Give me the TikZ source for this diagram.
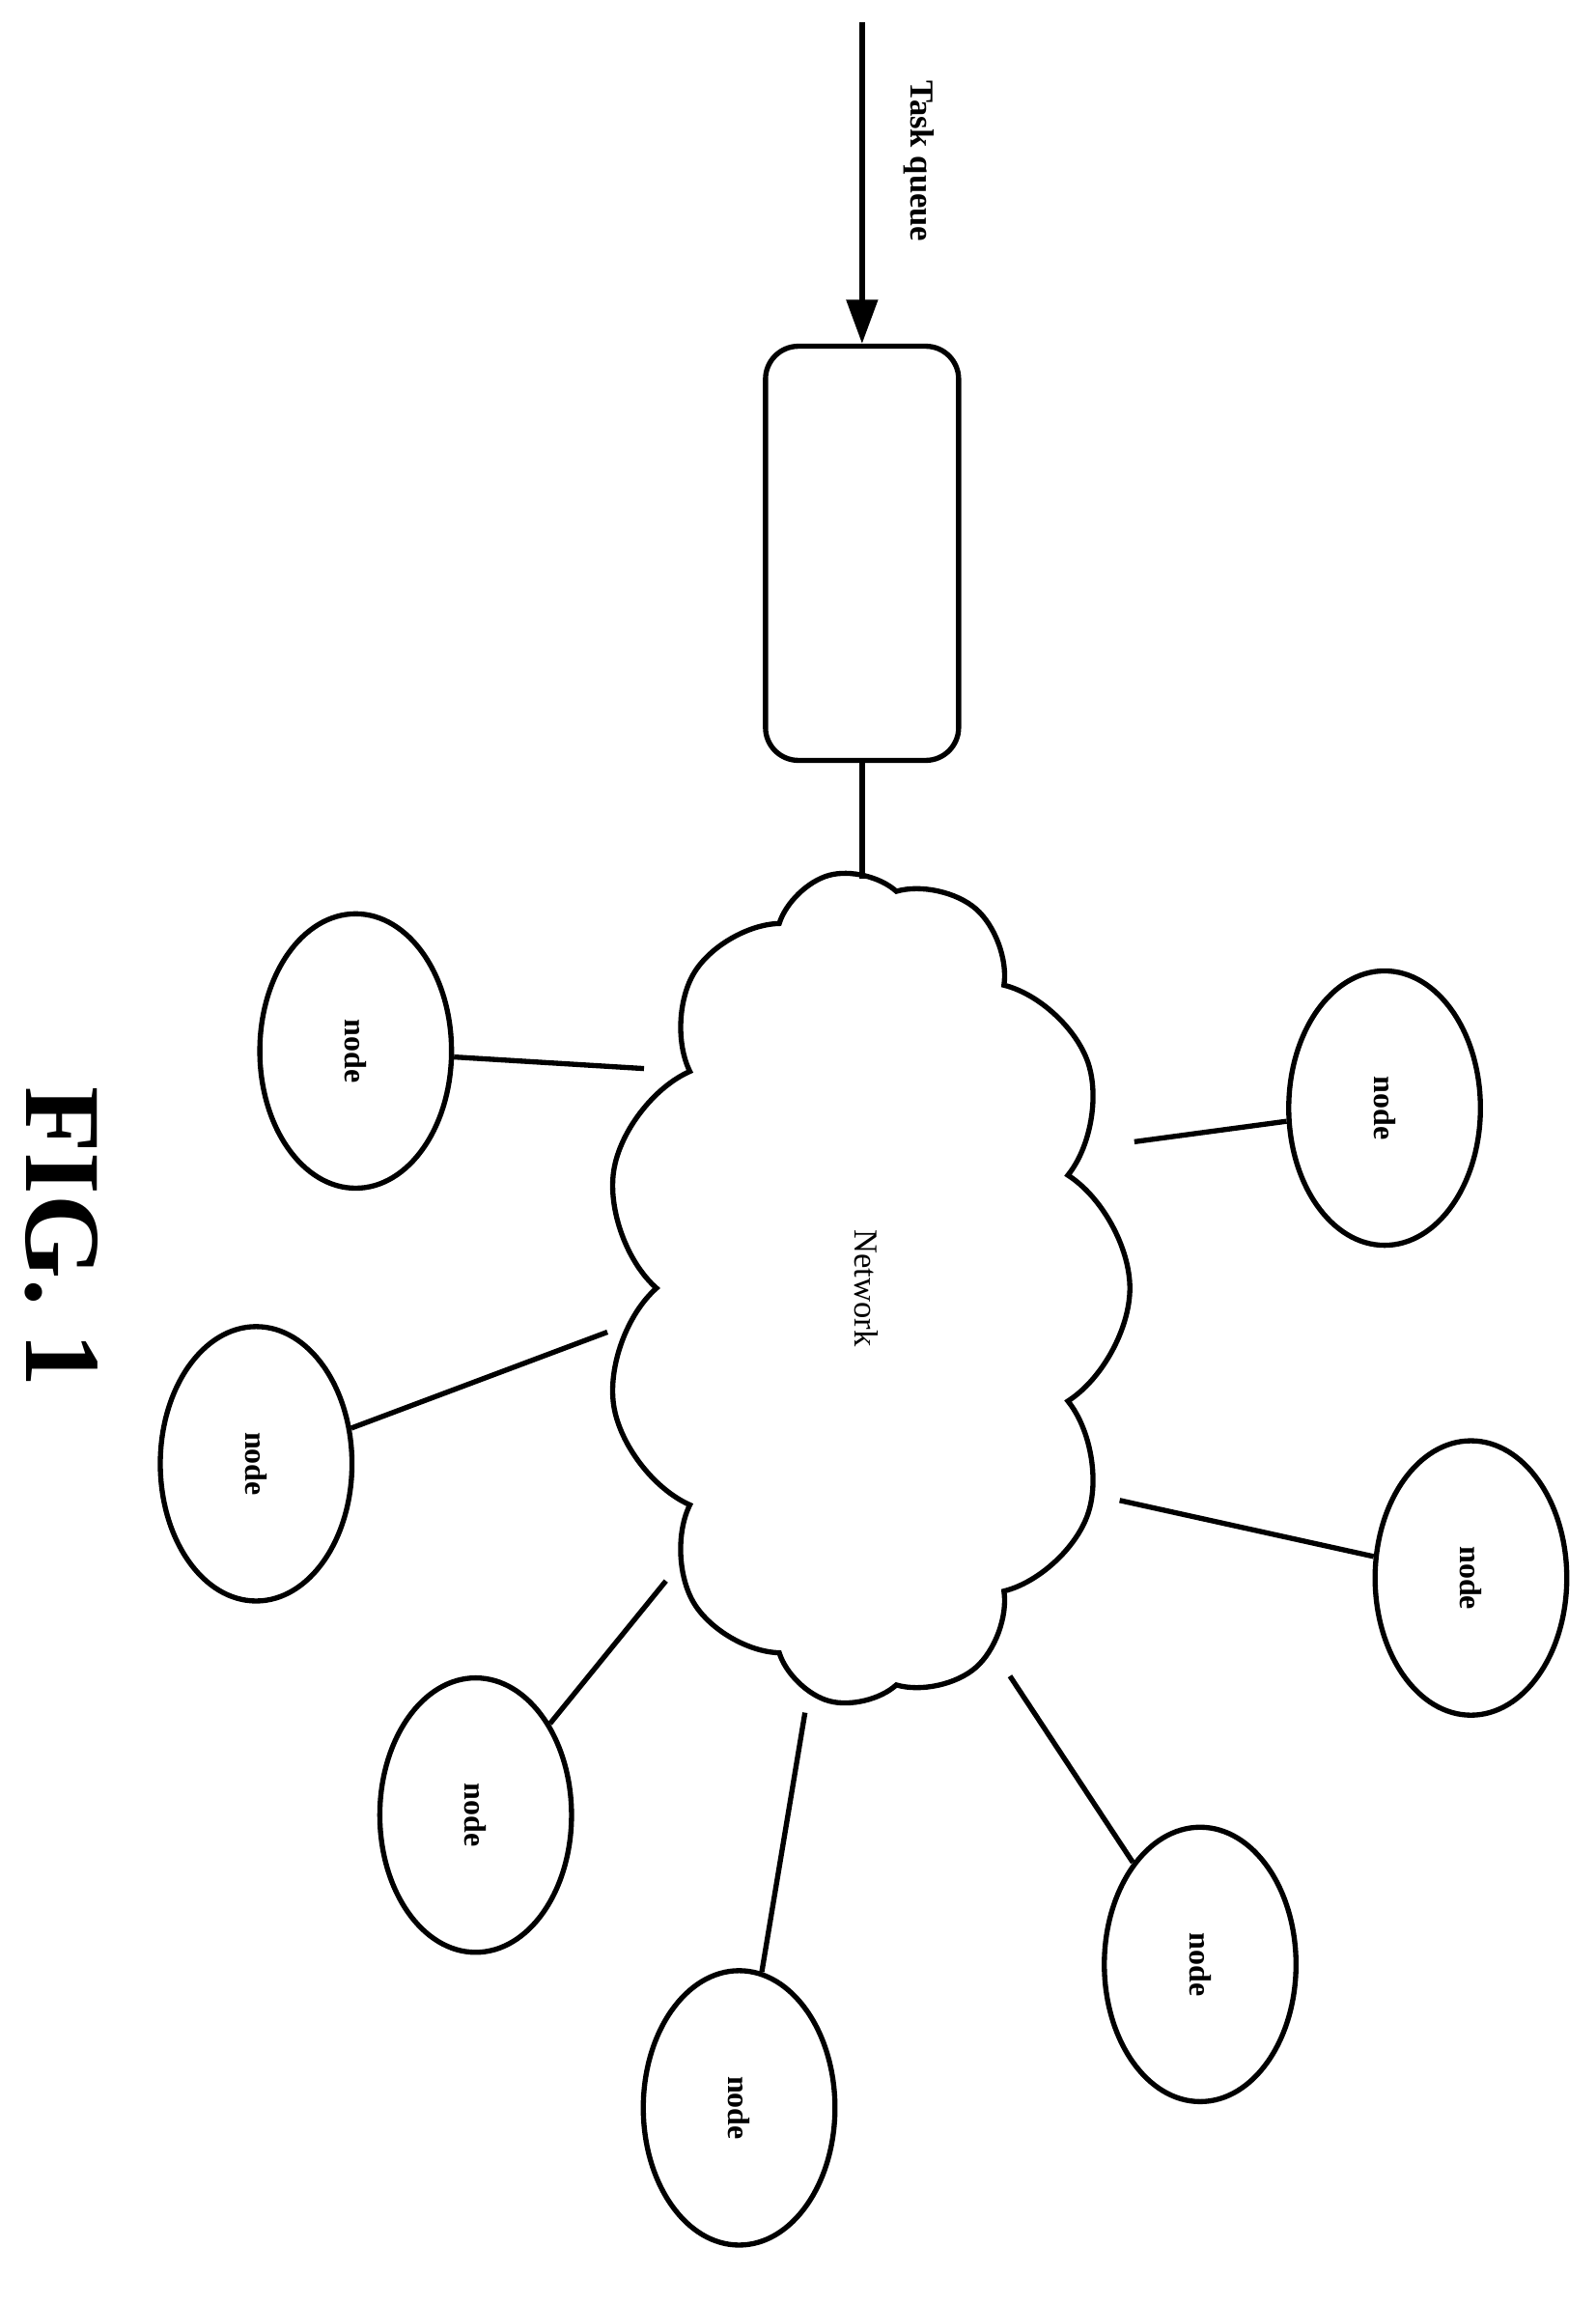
\documentclass[tikz,border=0pt]{standalone}
\usepackage{fontspec}
\setmainfont{Liberation Serif}
\usetikzlibrary{shapes.symbols,shapes.geometric,arrows.meta}
\begin{document}
\begin{tikzpicture}[x=0.02cm,y=-0.02cm,line width=2pt,
  nd/.style={draw,ellipse,minimum width=2.62cm,minimum height=3.75cm,inner sep=0pt,font=\bfseries\fontsize{12}{14}\selectfont},
  rt/.style={rotate=-90}]
\useasboundingbox (0,0) rectangle (1090,1574);
\node[draw,rounded corners=0.45cm,minimum width=2.64cm,minimum height=5.66cm] (q) at (589,378) {};
\coordinate (top) at (589,15);
\draw[-{Triangle[length=0.6cm,width=0.42cm]}] (top) -- (q.north);
\node[rt,font=\bfseries\fontsize{13}{15}\selectfont] (tq) at (628,110) {Task queue};
\node[draw,cloud,cloud puffs=11,cloud puff arc=115,aspect=1.6,minimum width=11.4cm,minimum height=7.2cm,rotate=-90,font=\fontsize{13}{15}\selectfont] (net) at (592,880) {Network};
\draw (q.south) -- (589,600);
\foreach \n/\x/\y in {a/243/718,b/175/1000,c/325/1240,d/505/1440,e/820/1342,f/1005/1078,g/946/757}{
  \node[nd] (\n) at (\x,\y) {\rotatebox{-90}{node}};
}
\draw (a) -- (440,730);
\draw (b) -- (415,910);
\draw (c) -- (455,1080);
\draw (d) -- (550,1170);
\draw (e) -- (690,1145);
\draw (f) -- (765,1025);
\draw (g) -- (775,780);
\node[rt,font=\bfseries\fontsize{42}{46}\selectfont] (fig) at (42,845) {FIG. 1};
\end{tikzpicture}
\end{document}
